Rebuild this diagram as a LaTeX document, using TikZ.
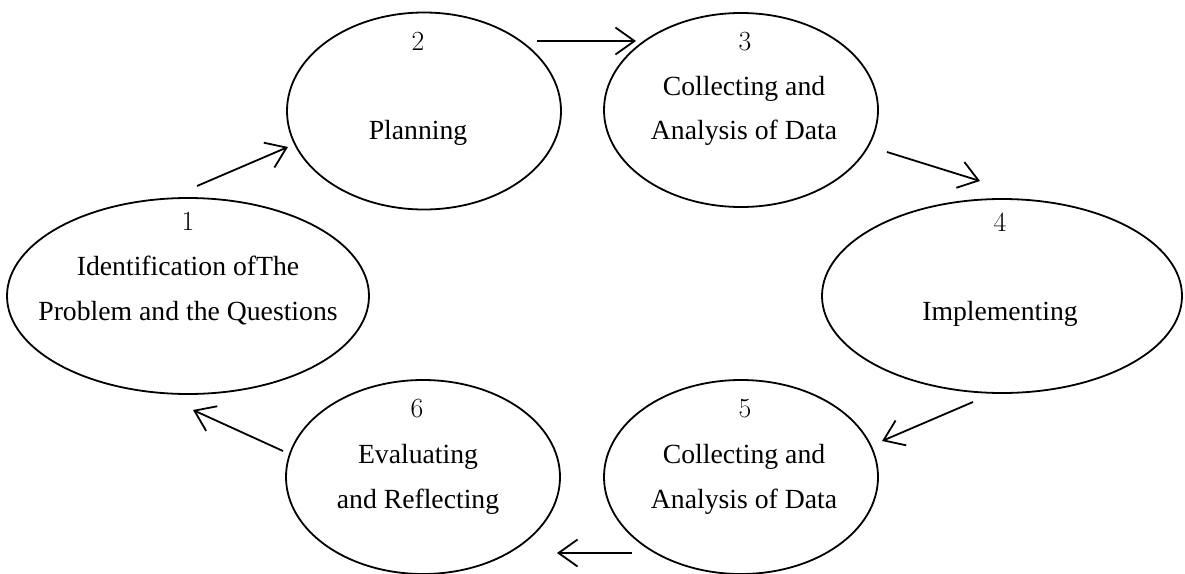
\documentclass[tikz,border=0pt]{standalone}
\usepackage{fontspec}
\newfontfamily\tnr{Liberation Serif}
\usetikzlibrary{shapes.geometric,arrows.meta}
\tikzset{
  stage/.style={draw, ellipse, line width=1.8pt, inner sep=0pt},
  lbl/.style={font=\fontsize{27.7}{30}\selectfont\tnr, inner sep=0pt, text height=0.68em, text depth=0.22em},
  num/.style={font=\fontsize{27.7}{30}\selectfont, inner sep=0pt, text height=0.68em, text depth=0.22em},
  flow/.style={line width=1.8pt, -{Straight Barb[length=19pt,width=27pt,line width=1.8pt]}}
}
\begin{document}
\begin{tikzpicture}[x=1pt,y=-1pt]
\useasboundingbox (0,0) rectangle (1185,573);
% ellipses
\node[stage, minimum width=362pt, minimum height=196pt] (e1) at (188,296) {};
\node[stage, minimum width=274pt, minimum height=197pt] (e2) at (424,111) {};
\node[stage, minimum width=274pt, minimum height=194pt] (e3) at (741,110) {};
\node[stage, minimum width=360pt, minimum height=194pt] (e4) at (1002,296) {};
\node[stage, minimum width=274pt, minimum height=194pt] (e5) at (741,477) {};
\node[stage, minimum width=274pt, minimum height=194pt] (e6) at (423,477) {};
% texts
\node[num] (n1) at (188,228) {1};
\node[lbl] (t1a) at (188,273) {Identification ofThe};
\node[lbl] (t1b) at (188,318) {Problem and the Questions};
\node[num] (n2) at (418,48) {2};
\node[lbl] (t2a) at (418,137) {Planning};
\node[num] (n3) at (745,48) {3};
\node[lbl] (t3a) at (744,93) {Collecting and};
\node[lbl] (t3b) at (744,137) {Analysis of Data};
\node[num] (n4) at (1000,229) {4};
\node[lbl] (t4a) at (1000,318) {Implementing};
\node[num] (n5) at (745,415) {5};
\node[lbl] (t5a) at (744,461) {Collecting and};
\node[lbl] (t5b) at (744,506) {Analysis of Data};
\node[num] (n6) at (417,415) {6};
\node[lbl] (t6a) at (418,461) {Evaluating};
\node[lbl] (t6b) at (418,506) {and Reflecting};
% arrow end points
\coordinate (a12s) at (197,186);
\coordinate (a12e) at (288,147);
\coordinate (a23s) at (537,41);
\coordinate (a23e) at (636,41);
\coordinate (a34s) at (887,152);
\coordinate (a34e) at (980,181);
\coordinate (a45s) at (973,402);
\coordinate (a45e) at (882,441);
\coordinate (a56s) at (632,553);
\coordinate (a56e) at (557,553);
\coordinate (a61s) at (283,451);
\coordinate (a61e) at (193,410);
\draw[flow] (a12s) -- (a12e);
\draw[flow] (a23s) -- (a23e);
\draw[flow] (a34s) -- (a34e);
\draw[flow] (a45s) -- (a45e);
\draw[flow] (a56s) -- (a56e);
\draw[flow] (a61s) -- (a61e);
\end{tikzpicture}
\end{document}
